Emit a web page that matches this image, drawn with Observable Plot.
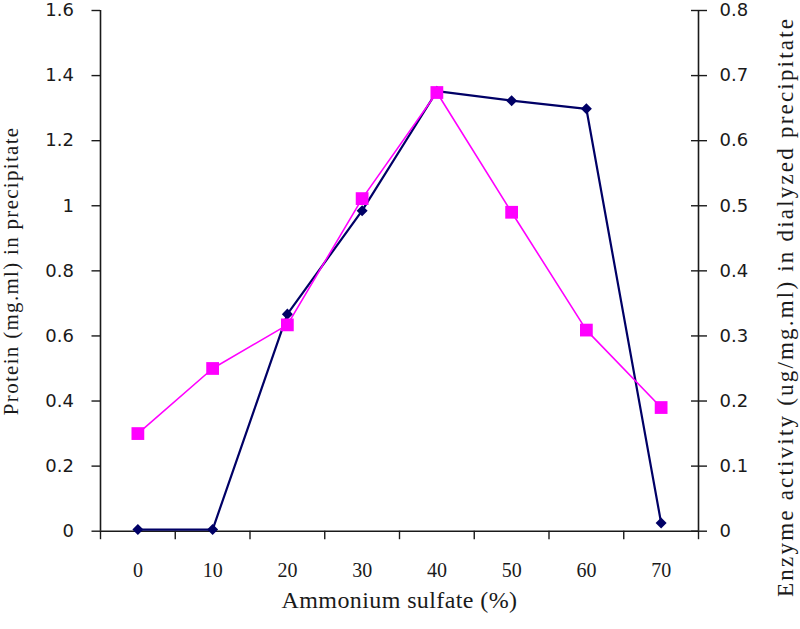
<!DOCTYPE html>
<html>
<head>
<meta charset="utf-8">
<script src="https://cdn.jsdelivr.net/npm/d3@7"></script>
<script src="https://cdn.jsdelivr.net/npm/@observablehq/plot@0.6"></script>
<style>
  html, body { margin: 0; padding: 0; background: #fff; }
  #chart svg { display: block; }
</style>
</head>
<body>
<div id="chart"></div>
<script>
// ---- data ----
const categories = [0, 10, 20, 30, 40, 50, 60, 70];              // Ammonium sulfate (%)
const protein    = [0.005, 0.005, 0.667, 0.985, 1.352, 1.323, 1.298, 0.025]; // left axis (mg.ml)
const enzyme     = [0.15, 0.25, 0.317, 0.511, 0.674, 0.49, 0.309, 0.19];     // right axis (ug/mg.ml)
const leftTicks  = [0, 0.2, 0.4, 0.6, 0.8, 1, 1.2, 1.4, 1.6];
const rightTicks = [0, 0.1, 0.2, 0.3, 0.4, 0.5, 0.6, 0.7, 0.8];
const xTickLabels = ["0", "10", "20", "30", "40", "50", "60", "70"];
const xLabel = "Ammonium sulfate (%)";
const yLeftLabel = "Protein (mg.ml) in precipitate";
const yRightLabel = "Enzyme activity (ug/mg.ml) in dialyzed precipitate";

// ---- derived ----
const step = categories[1] - categories[0];
const xDomain = [categories[0] - step / 2, categories[categories.length - 1] + step / 2];
const xBoundaries = d3.range(categories.length + 1).map(i => xDomain[0] + i * step);
const ratio = leftTicks[leftTicks.length - 1] / rightTicks[rightTicks.length - 1]; // 2
const rows = categories.map((c, i) => ({x: c, protein: protein[i], enzyme: enzyme[i] * ratio}));
const rightTickPos = rightTicks.map(v => v * ratio);
const rightFmt = new Map(rightTickPos.map((p, i) => [p, String(rightTicks[i])]));

const sans = "DejaVu Sans";
const serif = "Liberation Serif";
const axisColor = "#1a1a1a";

const chart = Plot.plot({
  width: 800,
  height: 629,
  marginLeft: 100,
  marginRight: 102,
  marginTop: 10,
  marginBottom: 98.3,
  style: {background: "#fff", color: axisColor, overflow: "visible"},
  x: {type: "linear", domain: xDomain},
  y: {type: "linear", domain: [0, leftTicks[leftTicks.length - 1]]},
  marks: [
    // axis lines
    Plot.ruleX([xDomain[0], xDomain[1]], {stroke: axisColor, strokeWidth: 1.6}),
    Plot.ruleY([0], {stroke: axisColor, strokeWidth: 1.6}),
    // left axis
    Plot.axisY({anchor: "left", ticks: leftTicks, tickSize: 8.5, tickPadding: 18,
      tickFormat: d => String(d), label: null, fontFamily: sans, fontSize: 18,
      stroke: axisColor, strokeWidth: 1.4}),
    // right axis (crossing ticks)
    Plot.axisY({anchor: "right", ticks: rightTickPos, tickSize: 8, tickPadding: 13,
      tickFormat: d => rightFmt.get(d) ?? String(+(d / ratio).toFixed(2)), label: null,
      fontFamily: sans, fontSize: 18, stroke: axisColor, strokeWidth: 1.4}),
    Plot.axisY({anchor: "right", ticks: rightTickPos, tickSize: 8, dx: -8,
      tickFormat: () => "", label: null, stroke: axisColor, strokeWidth: 1.4}),
    // bottom axis: boundary ticks, centered labels
    Plot.axisX({anchor: "bottom", ticks: xBoundaries, tickSize: 8.5, tickFormat: () => "",
      label: null, stroke: axisColor, strokeWidth: 1.4}),
    Plot.axisX({anchor: "bottom", ticks: categories, tickSize: 0, tickPadding: 32,
      tickFormat: (d) => xTickLabels[categories.indexOf(d)], label: null,
      fontFamily: serif, fontSize: 20}),
    // series
    Plot.line(rows, {x: "x", y: "protein", stroke: "#000066", strokeWidth: 2.2}),
    Plot.dot(rows, {x: "x", y: "protein", symbol: "square", r: 4.4, rotate: 45,
      fill: "#000066", stroke: "none"}),
    Plot.line(rows, {x: "x", y: "enzyme", stroke: "#ff00ff", strokeWidth: 1.6}),
    Plot.dot(rows, {x: "x", y: "enzyme", symbol: "square", r: 7.2, fill: "#ff00ff", stroke: "none"}),
    // titles
    Plot.text([xLabel], {frameAnchor: "bottom", dy: 77, text: d => d, textAnchor: "middle",
      fontFamily: serif, fontSize: 24, fill: axisColor}),
    Plot.text([yLeftLabel], {frameAnchor: "left", rotate: -90, dx: -89, text: d => d,
      textAnchor: "middle", fontFamily: serif, fontSize: 21, fill: axisColor}),
    Plot.text([yRightLabel], {frameAnchor: "right", rotate: -90, dx: 87, dy: 36, text: d => d,
      textAnchor: "middle", fontFamily: serif, fontSize: 23, fill: axisColor})
  ]
});
// letter spacing to match the stretched titles of the reference
const spacing = new Map([[yLeftLabel, "1.3px"], [yRightLabel, "2.2px"], [xLabel, "0.4px"]]);
d3.select(chart).selectAll("text").each(function() {
  const s = spacing.get(this.textContent);
  if (s) d3.select(this).style("letter-spacing", s);
});
document.getElementById("chart").appendChild(chart);
</script>
</body>
</html>
